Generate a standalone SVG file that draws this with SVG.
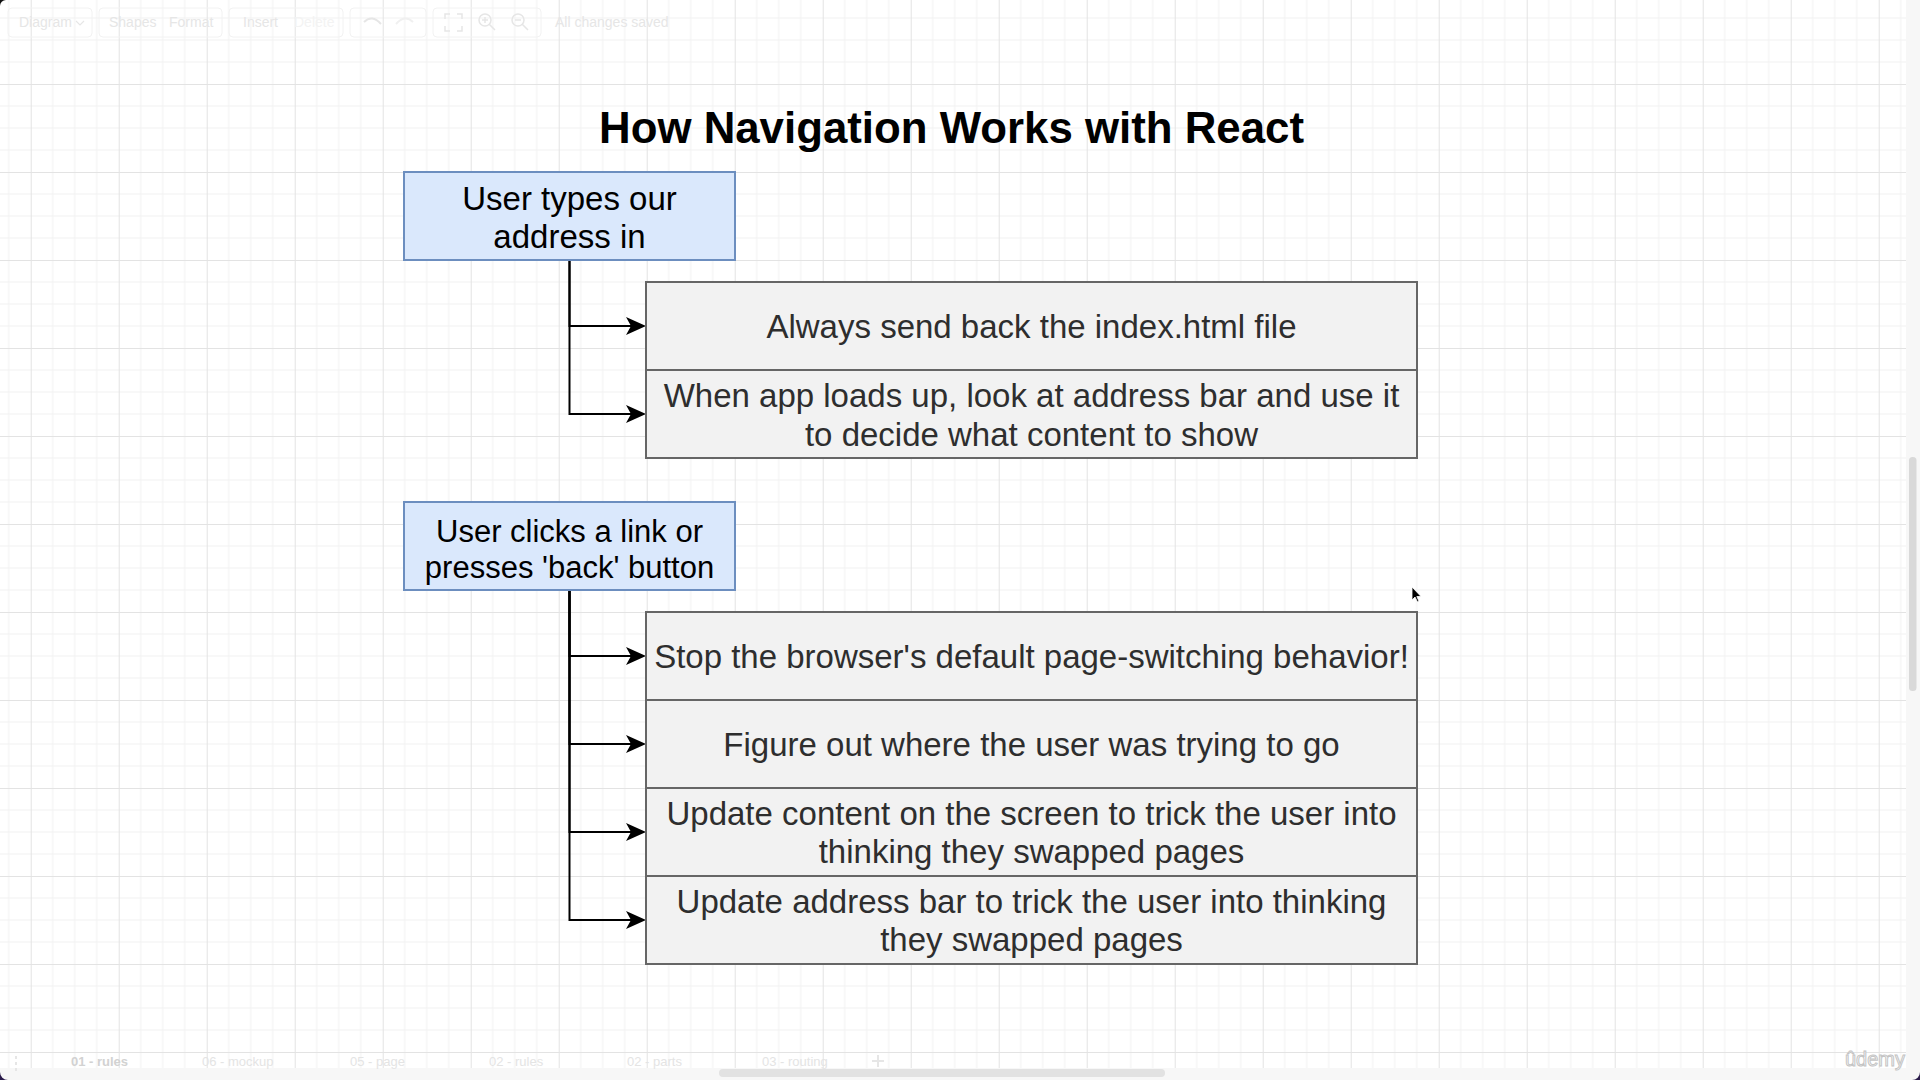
<svg xmlns="http://www.w3.org/2000/svg" width="1920" height="1080" viewBox="0 0 1920 1080">
<defs>
<pattern id="grid" x="30.7" y="84" width="88" height="88" patternUnits="userSpaceOnUse">
<path d="M22 0V88M44 0V88M66 0V88M0 22H88M0 44H88M0 66H88" stroke="#f1f1f1" stroke-width="1" fill="none"/>
<path d="M0.5 0V88M0 0.5H88" stroke="#e3e3e3" stroke-width="1" fill="none"/>
</pattern>
<marker id="arr" viewBox="0 0 20 18" refX="5" refY="9" markerWidth="20" markerHeight="18" markerUnits="userSpaceOnUse" orient="auto">
<path d="M0 0L20 9L0 18L5 9Z" fill="#000"/>
</marker>
</defs>
<style>
text{font-family:"Liberation Sans",Arial,Helvetica,sans-serif}
.title{font-size:44px;font-weight:bold;fill:#000;text-anchor:middle}
.blue rect{fill:#dae8fc;stroke:#6c8ebf;stroke-width:2}
.gray rect{fill:#f2f2f2;stroke:#666666;stroke-width:2}
.blue text{font-size:33px;fill:#000;text-anchor:middle}
.blue text.sm{font-size:31px}
.gray text{font-size:33px;fill:#2e2e2e;text-anchor:middle}
.conn path{fill:none;stroke:#000;stroke-width:2;marker-end:url(#arr)}
.ui{font-size:14px;fill:#e6e6e6}
.tab{font-size:13px;fill:#e4e4e4}
</style>
<rect width="1920" height="1080" fill="#ffffff"/>
<rect width="1920" height="1068" fill="url(#grid)"/>

<!-- faint toolbar -->
<g id="toolbar">
<g fill="none" stroke="#f2f2f2" stroke-width="1">
<rect x="8" y="8" width="84" height="29" rx="4"/>
<rect x="99" y="8" width="123" height="29" rx="4"/>
<rect x="229" y="8" width="114" height="29" rx="4"/>
<rect x="350" y="8" width="76" height="29" rx="4"/>
<rect x="433" y="8" width="108" height="29" rx="4"/>
</g>
<text class="ui" x="19" y="27">Diagram</text>
<path d="M76 21l4 4 4-4" fill="none" stroke="#e6e6e6" stroke-width="1.2"/>
<text class="ui" x="109" y="27">Shapes</text>
<text class="ui" x="169" y="27">Format</text>
<text class="ui" x="243" y="27">Insert</text>
<text class="ui" x="294" y="27" style="fill:#f3f3f3">Delete</text>
<path d="M364 22q8-8 17 2" fill="none" stroke="#e6e6e6" stroke-width="2"/>
<path d="M413 22q-8-8-17 2" fill="none" stroke="#f0f0f0" stroke-width="2"/>
<path d="M445 19v-5h5M457 14h5v5M462 26v5h-5M450 31h-5v-5" fill="none" stroke="#e6e6e6" stroke-width="1.5"/>
<circle cx="485" cy="20" r="6" fill="none" stroke="#e6e6e6" stroke-width="1.5"/>
<path d="M489 24l6 6M482 20h6M485 17v6" stroke="#e6e6e6" stroke-width="1.5"/>
<circle cx="518" cy="20" r="6" fill="none" stroke="#e6e6e6" stroke-width="1.5"/>
<path d="M522 24l6 6M515 20h6" stroke="#e6e6e6" stroke-width="1.5"/>
<text class="ui" x="555" y="27">All changes saved</text>
</g>

<text class="title" x="951.5" y="143" textLength="705" lengthAdjust="spacingAndGlyphs">How Navigation Works with React</text>

<g id="connectors" class="conn">
<path d="M569.5 260V326H631"/>
<path d="M569.5 260V414H631"/>
<path d="M569.5 590V656H631"/>
<path d="M569.5 590V744H631"/>
<path d="M569.5 590V832H631"/>
<path d="M569.5 590V920H631"/>
</g>

<g id="n-user-types" class="blue">
<rect x="404" y="172" width="331" height="88"/>
<text x="569.5" y="209.5">User types our</text>
<text x="569.5" y="248">address in</text>
</g>
<g id="n-send-index" class="gray">
<rect x="646" y="282" width="771" height="88"/>
<text x="1031.5" y="338">Always send back the index.html file</text>
</g>
<g id="n-app-loads" class="gray">
<rect x="646" y="370" width="771" height="88"/>
<text x="1031.5" y="407">When app loads up, look at address bar and use it</text>
<text x="1031.5" y="445.5">to decide what content to show</text>
</g>

<g id="n-user-clicks" class="blue">
<rect x="404" y="502" width="331" height="88"/>
<text class="sm" x="569.5" y="541.5">User clicks a link or</text>
<text class="sm" x="569.5" y="577.5">presses 'back' button</text>
</g>
<g id="n-stop-default" class="gray">
<rect x="646" y="612" width="771" height="88"/>
<text x="1031.5" y="668">Stop the browser's default page-switching behavior!</text>
</g>
<g id="n-figure-out" class="gray">
<rect x="646" y="700" width="771" height="88"/>
<text x="1031.5" y="756">Figure out where the user was trying to go</text>
</g>
<g id="n-update-content" class="gray">
<rect x="646" y="788" width="771" height="88"/>
<text x="1031.5" y="825">Update content on the screen to trick the user into</text>
<text x="1031.5" y="863">thinking they swapped pages</text>
</g>
<g id="n-update-address" class="gray">
<rect x="646" y="876" width="771" height="88"/>
<text x="1031.5" y="912.5">Update address bar to trick the user into thinking</text>
<text x="1031.5" y="950.5">they swapped pages</text>
</g>

<!-- mouse cursor -->
<path d="M1412 587L1412 600L1415 597L1417.5 602L1419 601.3L1416.8 596.5L1421 596.5Z" fill="#000" stroke="#fff" stroke-width="0.8"/>

<!-- right scrollbar -->
<rect x="1906" y="0" width="14" height="1068" fill="#f7f7f7"/>
<rect x="1909" y="457" width="7.5" height="234" rx="3.5" fill="#d9d9d9"/>

<!-- bottom tab bar -->
<g id="tabs">
<rect x="0" y="1068" width="1920" height="12" fill="#f7f7f7"/>
<path d="M16 1056v3M16 1062v3M16 1068v3" stroke="#e6e6e6" stroke-width="2"/>
<text class="tab" x="71" y="1066" font-weight="bold" style="fill:#d2d2d2">01 - rules</text>
<text class="tab" x="202" y="1066">06 - mockup</text>
<text class="tab" x="350" y="1066">05 - page</text>
<text class="tab" x="489" y="1066">02 - rules</text>
<text class="tab" x="627" y="1066">02 - parts</text>
<text class="tab" x="762" y="1066">03 - routing</text>
<path d="M878 1055v12M872 1061h12" stroke="#e6e6e6" stroke-width="2"/>
<rect x="719" y="1069" width="446" height="8" rx="4" fill="#e2e2e2"/>
<text x="1875" y="1066" font-size="20" fill="#ffffff" stroke="#c4c4c4" stroke-width="1" text-anchor="middle">ûdemy</text>
</g>
<path d="M0 0H6A6 6 0 0 0 0 6Z" fill="#111"/>
<path d="M0 1080V1072A8 8 0 0 0 8 1080Z" fill="#2a1a4a"/>
<path d="M1920 1080V1072A8 8 0 0 1 1912 1080Z" fill="#2a1a4a"/>
</svg>
